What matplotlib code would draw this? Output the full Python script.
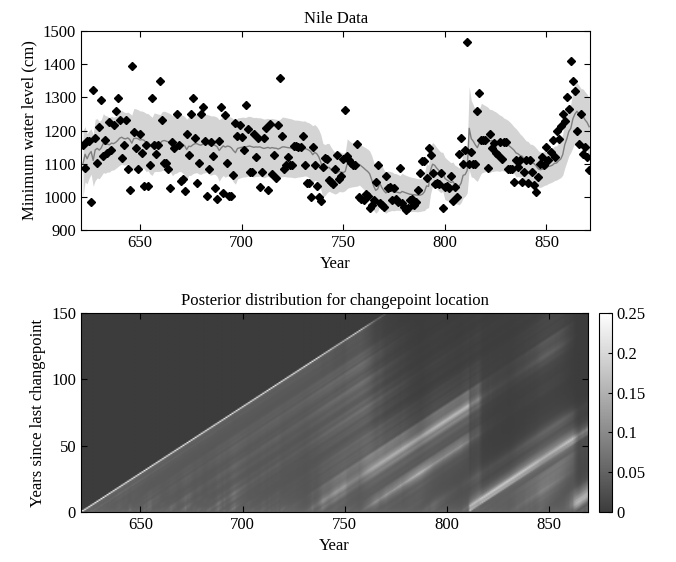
## Nile minimum water levels + run-length posterior (BOCPD)
import math
import numpy as np
import matplotlib.pyplot as plt
from matplotlib.colors import LinearSegmentedColormap

plt.rcParams['font.family'] = ['Liberation Serif', 'DejaVu Serif']
plt.rcParams['font.size'] = 12

# data (622 .. 871)
first_year = 622
levels = [
    1157, 1088, 1169, 1169, 984, 1322, 1178, 1103, 1211, 1292,
    1124, 1171, 1133, 1227, 1142, 1216, 1259, 1299, 1232, 1117,
    1155, 1232, 1083, 1020, 1394, 1196, 1148, 1083, 1189, 1133,
    1034, 1157, 1034, 1097, 1299, 1157, 1130, 1155, 1349, 1232,
    1103, 1103, 1083, 1027, 1166, 1148, 1250, 1155, 1047, 1054,
    1018, 1189, 1126, 1250, 1297, 1178, 1043, 1103, 1250, 1272,
    1169, 1004, 1083, 1164, 1124, 1027, 995, 1169, 1270, 1011,
    1247, 1101, 1004, 1004, 1065, 1223, 1184, 1216, 1180, 1142,
    1277, 1206, 1076, 1076, 1189, 1121, 1178, 1031, 1076, 1178,
    1209, 1022, 1220, 1070, 1126, 1058, 1216, 1358, 1184, 1083,
    1097, 1119, 1097, 1097, 1153, 1153, 1151, 1151, 1184, 1097,
    1043, 1043, 1000, 1151, 1096, 1034, 1000, 987, 1091, 1116,
    1113, 1051, 1044, 1038, 1084, 1126, 1054, 1064, 1114, 1262,
    1124, 1111, 1103, 1096, 1096, 1158, 1000, 995, 990, 1010,
    1003, 967, 975, 990, 1046, 1096, 980, 975, 970, 1064,
    1026, 1031, 990, 1028, 995, 985, 1088, 980, 970, 960,
    967, 990, 995, 975, 985, 1020, 1073, 1108, 1108, 1058,
    1148, 1126, 1073, 1040, 1042, 1038, 1073, 965, 1030, 1032,
    1028, 1063, 988, 1030, 1000, 1128, 1176, 1098, 1141, 1466,
    1098, 1136, 1098, 1098, 1259, 1312, 1171, 1171, 1171, 1086,
    1191, 1146, 1161, 1131, 1126, 1165, 1114, 1165, 1165, 1083,
    1083, 1083, 1044, 1111, 1091, 1111, 1046, 1076, 1111, 1041,
    1111, 1076, 1036, 1015, 1060, 1100, 1120, 1095, 1150, 1110,
    1135, 1170, 1120, 1200, 1175, 1215, 1250, 1230, 1300, 1265,
    1410, 1350, 1320, 1200, 1160, 1250, 1130, 1150, 1120, 1080,
]
years = np.arange(first_year, first_year + len(levels))

# model settings (normal-gamma BOCPD): hazard, mu0, kappa0, alpha0, beta0
hazard = 1.0 / 250
line_model = (hazard, 1100.0, 1.0, 5.0, 20000.0)           # predictive mean / band
map_model = (hazard, 1100.0, 1.0, 50.0, 50 * 105.0 ** 2)   # run-length image
r_max = 150
gamma = 0.27   # brightness curve of the image

x = np.array(levels, dtype=float)
T = len(x)
lgam = np.vectorize(math.lgamma)


def bocpd(h, mu0, kappa0, alpha0, beta0):
    R = np.zeros((T + 1, T + 1))
    R[0, 0] = 1.0
    mu = np.array([mu0]); kappa = np.array([kappa0])
    alpha = np.array([alpha0]); beta = np.array([beta0])
    mean = np.zeros(T)
    std = np.zeros(T)
    for t in range(T):
        w = R[:t + 1, t]
        df = 2 * alpha
        s2 = beta * (kappa + 1) / (alpha * kappa)
        m = np.sum(w * mu)
        mean[t] = m
        std[t] = np.sqrt(np.sum(w * (s2 * df / (df - 2) + mu ** 2)) - m ** 2)

        z = (x[t] - mu) ** 2 / (df * s2)
        p = np.exp(lgam((df + 1) / 2) - lgam(df / 2) - 0.5 * np.log(np.pi * df * s2)
                   - (df + 1) / 2 * np.log1p(z))
        R[1:t + 2, t + 1] = w * p * (1 - h)
        R[0, t + 1] = np.sum(w * p * h)
        R[:, t + 1] /= R[:, t + 1].sum()

        mu_new = (kappa * mu + x[t]) / (kappa + 1)
        beta_new = beta + kappa * (x[t] - mu) ** 2 / (2 * (kappa + 1))
        mu = np.concatenate([[mu0], mu_new])
        kappa = np.concatenate([[kappa0], kappa + 1])
        alpha = np.concatenate([[alpha0], alpha + 0.5])
        beta = np.concatenate([[beta0], beta_new])
    return R, mean, std


_, pred_mean, pred_std = bocpd(*line_model)
R, _, _ = bocpd(*map_model)
post = R[:r_max + 1, 1:]
shade = 0.25 * post ** gamma

fig = plt.figure(figsize=(6.76, 5.62), dpi=100)

# top panel
ax1 = fig.add_axes([0.1198, 0.5907, 0.7532, 0.3541])
ax1.fill_between(years, pred_mean - pred_std, pred_mean + pred_std,
                 color='#d4d4d4', linewidth=0)
ax1.plot(years, pred_mean, color='#7f7f7f', linewidth=1)
ax1.plot(years, x, 'kD', markersize=3.8)
ax1.set_xlim(621, 871.5)
ax1.set_ylim(900, 1500)
ax1.set_xticks([650, 700, 750, 800, 850])
ax1.set_yticks([900, 1000, 1100, 1200, 1300, 1400, 1500])
ax1.set_title('Nile Data', fontsize=12)
ax1.set_xlabel('Year')
ax1.set_ylabel('Minimum water level (cm)')
ax1.tick_params(direction='in', top=True, right=True, length=4)

# bottom panel
cmap = LinearSegmentedColormap.from_list('g', ['#3c3c3c', '#ffffff'])
ax2 = fig.add_axes([0.1198, 0.0890, 0.7503, 0.3541])
im = ax2.imshow(shade, origin='lower', aspect='auto', cmap=cmap,
                vmin=0, vmax=0.25, interpolation='bilinear',
                extent=[first_year - 0.5, first_year + T - 0.5, -0.5, r_max + 0.5])
ax2.set_xlim(621, 869)
ax2.set_ylim(0, 150)
ax2.set_xticks([650, 700, 750, 800, 850])
ax2.set_yticks([0, 50, 100, 150])
ax2.set_title('Posterior distribution for changepoint location', fontsize=12)
ax2.set_xlabel('Year')
ax2.set_ylabel('Years since last changepoint')
ax2.tick_params(direction='in', top=True, right=True, length=4)

cax = fig.add_axes([0.886, 0.0890, 0.019, 0.3541])
cb = fig.colorbar(im, cax=cax, ticks=[0, 0.05, 0.1, 0.15, 0.2, 0.25])
cb.ax.set_yticklabels(['0', '0.05', '0.1', '0.15', '0.2', '0.25'])
cb.ax.tick_params(direction='in', length=3)

fig.savefig('out.png', dpi=100)
